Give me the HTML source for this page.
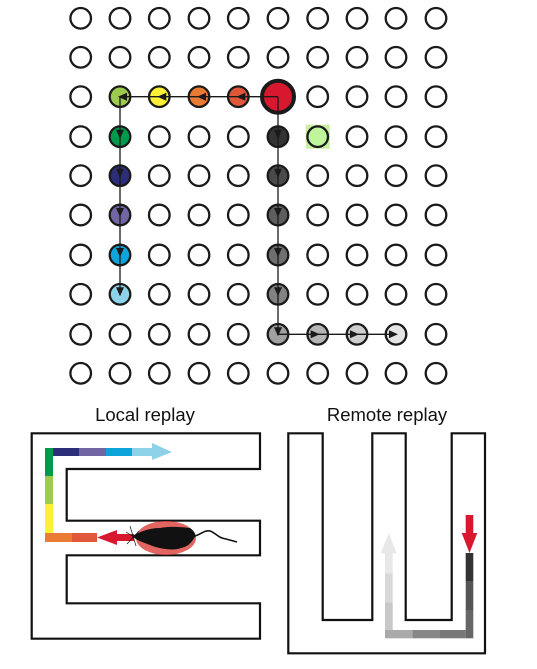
<!DOCTYPE html>
<html><head><meta charset="utf-8"><style>
html,body{margin:0;padding:0;background:#fff;width:537px;height:669px;overflow:hidden}
svg{display:block}
text{font-family:"Liberation Sans",Arial,sans-serif}
</style></head><body>
<svg id="fig" width="537" height="669" viewBox="0 0 537 669">
<g id="grid"></g>
<g id="paths"></g>

<text x="145" y="421" font-size="18.5" text-anchor="middle" fill="#111">Local replay</text>
<text x="387" y="421" font-size="18.5" text-anchor="middle" fill="#111">Remote replay</text>

<g>
<polygon points="31.7,433.3 260,433.3 260,469 66.7,469 66.7,520.7 260,520.7 260,555.3 66.7,555.3 66.7,603.3 260,603.3 260,638.7 31.7,638.7" fill="none" stroke="#111" stroke-width="2.2"/>
<g>
<rect x="45" y="448" width="8" height="28" fill="#009a4c"/>
<rect x="45" y="476" width="8" height="28" fill="#9ccb4f"/>
<rect x="45" y="504" width="8" height="29" fill="#fef035"/>
<rect x="45" y="533" width="27" height="9" fill="#e97b35"/>
<rect x="72" y="533" width="25" height="9" fill="#e0573a"/>
<rect x="53" y="448" width="26" height="8" fill="#2d2e7a"/>
<rect x="79" y="448" width="27" height="8" fill="#7265a4"/>
<rect x="106" y="448" width="26" height="8" fill="#0da4dc"/>
<rect x="132" y="448" width="21" height="8" fill="#8dd2e8"/>
<polygon points="152,443 172,452 152,460" fill="#8dd2e8"/>
</g>
<ellipse cx="166" cy="538" rx="30" ry="17" fill="#dc4a44" opacity="0.85"/>
<g>
<rect x="112" y="534" width="22" height="7" fill="#d8182f"/>
<polygon points="97,537.5 117,530 117,545" fill="#d8182f"/>
</g>
<g>
<path d="M132,536 C140,532 148,528 160,528 C170,526 182,527 190,528 C194,531 196,534 195,537 C192,541 190,546 181,548 C174,551 160,549 150,545 C142,542 136,540 132,536 Z" fill="#111"/>
<path d="M195,536 C202,534 204,530 210,531 C216,533 218,538 226,539 C230,540 233,541 237,542" fill="none" stroke="#111" stroke-width="1.6"/>
<path d="M130,526 L136,546 M126,532 L140,541 M127,544 L139,531" stroke="#111" stroke-width="0.7"/>
</g>
</g>

<g>
<polygon points="288.3,433.3 322.7,433.3 322.7,620 372.3,620 372.3,433.3 405.7,433.3 405.7,620 451.7,620 451.7,433.3 485,433.3 485,653.3 288.3,653.3" fill="none" stroke="#111" stroke-width="2.2"/>
<g>
<rect x="465.7" y="553" width="7.6" height="28" fill="#333"/>
<rect x="465.7" y="581" width="7.6" height="29" fill="#555"/>
<rect x="465.7" y="610" width="7.6" height="28.3" fill="#666"/>
<rect x="440" y="630" width="25.7" height="8.3" fill="#777"/>
<rect x="412.3" y="630" width="27.7" height="8.3" fill="#888"/>
<rect x="385" y="630" width="27.3" height="8.3" fill="#aaa"/>
<rect x="385" y="602.3" width="7.7" height="27.7" fill="#c8c8c8"/>
<rect x="385" y="573.3" width="7.7" height="29" fill="#d8d8d8"/>
<rect x="385" y="553" width="7.7" height="20.3" fill="#e8e8e8"/>
<polygon points="380.7,553.3 388.8,533.3 396.7,553.3" fill="#e8e8e8"/>
</g>
<g>
<rect x="465.7" y="515" width="7.6" height="19" fill="#d8182f"/>
<polygon points="461.7,533 477.3,533 469.5,553" fill="#d8182f"/>
</g>
</g>
</svg>
<script>
const colsX=[80.7,120,159.3,199,238.3,278,317.7,357,396,436];
const rowsY=[18.3,57.3,96.7,136.7,175.7,215,255,294.3,334.3,373.3];
// filled cells: [col,row,color]
const localCells=[[4,2,'#e0573a'],[3,2,'#e97b35'],[2,2,'#fef035'],[1,2,'#9ccb4f'],[1,3,'#009a4c'],[1,4,'#2d2e7a'],[1,5,'#7265a4'],[1,6,'#0da4dc'],[1,7,'#8dd2e8']];
const remoteCells=[[5,3,'#333333'],[5,4,'#4a4a4a'],[5,5,'#5e5e5e'],[5,6,'#6f6f6f'],[5,7,'#828282'],[5,8,'#a0a0a0'],[6,8,'#b5b5b5'],[7,8,'#cecece'],[8,8,'#e5e5e5']];
const ratCell=[5,2];
const goalCell=[6,3];
const NS='http://www.w3.org/2000/svg';
const grid=document.getElementById('grid'),paths=document.getElementById('paths');
function mk(tag,attrs,parent){const e=document.createElementNS(NS,tag);for(const k in attrs)e.setAttribute(k,attrs[k]);parent.appendChild(e);return e;}
const fill={};
localCells.concat(remoteCells).forEach(c=>fill[c[0]+','+c[1]]=c[2]);
const gb=mk('rect',{x:colsX[goalCell[0]]-12,y:rowsY[goalCell[1]]-12,width:24,height:24,fill:'#c8f0a0'},grid);


fill[goalCell[0]+','+goalCell[1]]='#bff59b';
for(let r=0;r<rowsY.length;r++)for(let c=0;c<colsX.length;c++){
  if(c===ratCell[0]&&r===ratCell[1])continue;
  const e=mk('circle',{cx:colsX[c],cy:rowsY[r],r:10.3,fill:fill[c+','+r]||'#fff',stroke:'#1a1a1a','stroke-width':2.3},grid);
  
  
}
const rat=mk('circle',{cx:colsX[ratCell[0]],cy:rowsY[ratCell[1]],r:16,fill:'#d8182f',stroke:'#1a1a1a','stroke-width':4},grid);


function drawPath(cells,name){
  let pts=[[colsX[ratCell[0]],rowsY[ratCell[1]]]].concat(cells.map(c=>[colsX[c[0]],rowsY[c[1]]]));
  const pl=mk('polyline',{points:pts.map(p=>p.join(',')).join(' '),fill:'none',stroke:'#1a1a1a','stroke-width':1.3},paths);
  
  
  for(let i=1;i<pts.length;i++){
    const [x0,y0]=pts[i-1],[x1,y1]=pts[i];const a=Math.atan2(y1-y0,x1-x0);
    const tx=x1+Math.cos(a)*2,ty=y1+Math.sin(a)*2,L=9,W=4;
    const bx=tx-Math.cos(a)*L,by=ty-Math.sin(a)*L;
    const h=mk('polygon',{points:`${tx},${ty} ${bx-Math.sin(a)*W},${by+Math.cos(a)*W} ${bx+Math.sin(a)*W},${by-Math.cos(a)*W}`,fill:'#1a1a1a'},paths);
    
    
  }
}
drawPath(localCells,'local-replay-path');
drawPath(remoteCells,'remote-replay-path');
</script>
</body></html>
